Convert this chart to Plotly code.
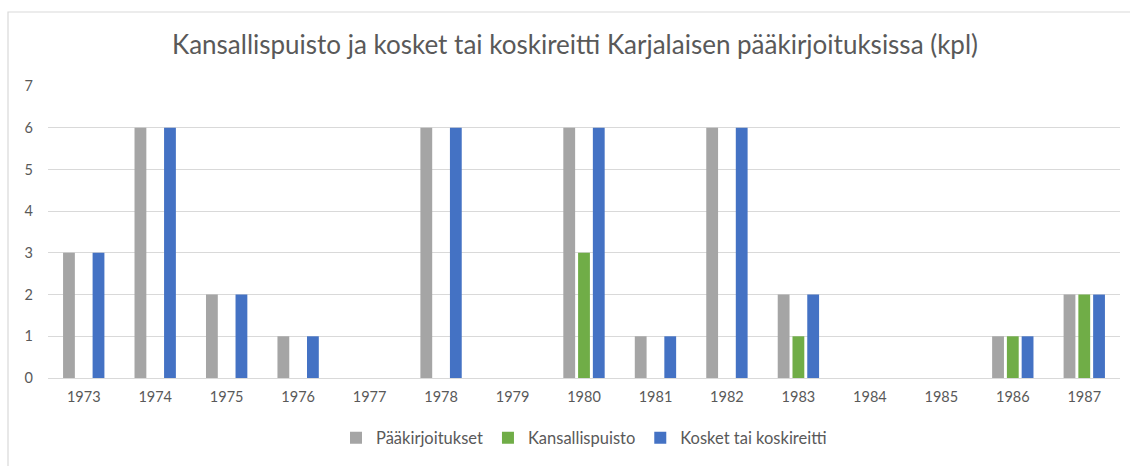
import plotly.graph_objects as go

years = ["1973", "1974", "1975", "1976", "1977", "1978", "1979", "1980",
         "1981", "1982", "1983", "1984", "1985", "1986", "1987"]
paakirjoitukset = [3, 6, 2, 1, 0, 6, 0, 6, 1, 6, 2, 0, 0, 1, 2]
kansallispuisto = [0, 0, 0, 0, 0, 0, 0, 3, 0, 0, 1, 0, 0, 1, 2]
kosket = [3, 6, 2, 1, 0, 6, 0, 6, 1, 6, 2, 0, 0, 1, 2]

series_names = ["Pääkirjoitukset", "Kansallispuisto", "Kosket tai koskireitti"]
series_values = [paakirjoitukset, kansallispuisto, kosket]
series_colors = ["#A5A5A5", "#70AD47", "#4472C4"]

FONT = "Lato"
TXT = "#595959"

fig = go.Figure()
for name, vals, col in zip(series_names, series_values, series_colors):
    fig.add_trace(go.Bar(
        x=years, y=vals, name=name,
        marker=dict(color=col, line=dict(width=0)),
    ))

W, H = 1130, 466
L, R, T, B = 48, 10, 86, 88
pw, ph = W - L - R, H - T - B

def px_x(x):
    return (x - L) / pw

def px_y(y):
    return (H - B - y) / ph

fig.update_layout(
    width=W, height=H,
    margin=dict(l=L, r=R, t=T, b=B, autoexpand=False),
    paper_bgcolor="white", plot_bgcolor="white",
    barmode="group", bargap=0.38, bargroupgap=0.2,
    font=dict(family=FONT, color=TXT),
    title=dict(
        text="Kansallispuisto ja kosket tai koskireitti Karjalaisen pääkirjoituksissa (kpl)",
        x=575 / W, xanchor="center", y=1 - 45 / H, yanchor="middle",
        font=dict(family=FONT, size=26, color=TXT),
    ),
    legend=dict(
        orientation="h", x=px_x(584), xanchor="center",
        y=px_y(438), yanchor="middle",
        font=dict(family=FONT, size=16.5, color=TXT),
        itemwidth=30, traceorder="normal",
        bgcolor="rgba(0,0,0,0)",
    ),
    xaxis=dict(
        type="category", showgrid=False, showline=False, ticks="",
        tickfont=dict(family=FONT, size=14.5, color=TXT),
        ticklabelstandoff=8, tickangle=0,
    ),
    yaxis=dict(
        range=[0, 7], dtick=1, showgrid=True, gridcolor="#D9D9D9", gridwidth=1,
        zeroline=True, zerolinecolor="#D9D9D9", zerolinewidth=1,
        showline=False, ticks="",
        tickfont=dict(family=FONT, size=14.5, color=TXT),
        ticklabelstandoff=14,
    ),
    showlegend=True,
    shapes=[dict(
        type="rect", xref="paper", yref="paper",
        x0=px_x(8), x1=px_x(1140), y0=px_y(480), y1=px_y(12),
        line=dict(color="#D9D9D9", width=1.2), fillcolor="rgba(0,0,0,0)",
        layer="below",
    )],
)

fig.write_html("out.html", config={"displayModeBar": False},
               post_script="document.body.style.margin='0';document.body.style.overflow='hidden';")
